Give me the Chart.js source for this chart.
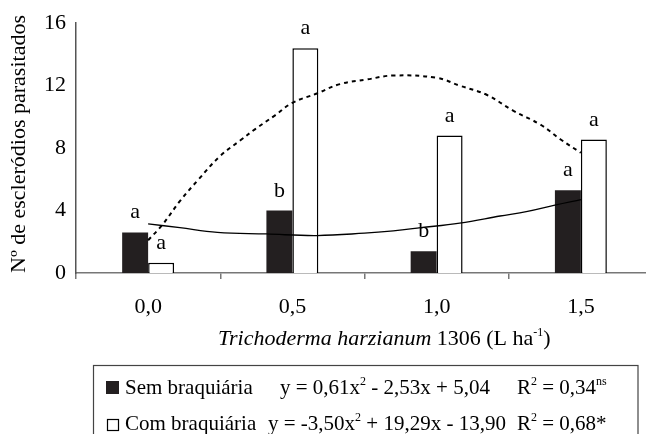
<!DOCTYPE html>
<html>
<head>
<meta charset="utf-8">
<script src="https://cdn.jsdelivr.net/npm/chart.js@4.4.1/dist/chart.umd.min.js"></script>
<style>
    html, body { margin: 0; padding: 0; overflow: hidden; background: #fff; }
    #wrap { position: absolute; left: 0; top: 0; width: 653px; height: 434px; }
</style>
</head>
<body>
<div id="wrap"><canvas id="myChart"></canvas></div>
<script>
var categories = ["0,0", "0,5", "1,0", "1,5"];
var semValues = [2.6, 4.0, 1.4, 5.3];
var comValues = [0.65, 14.4, 8.8, 8.55];
var semLetters = ["a", "b", "b", "a"];
var comLetters = ["a", "a", "a", "a"];
var yTicks = [0, 4, 8, 12, 16];

// trend lines (x = position in category units)
var semTrendX = [0, 0.22, 0.48, 0.82, 1.17, 1.5, 1.7, 1.89, 2.16, 2.44, 2.63, 2.82, 3.0];
var semTrendY = [3.15, 2.9, 2.6, 2.5, 2.4, 2.55, 2.7, 2.9, 3.2, 3.65, 3.95, 4.35, 4.7];
var comTrendX = [0, 0.1, 0.22, 0.35, 0.5, 0.64, 0.74, 0.88, 1.0, 1.17, 1.33, 1.52, 1.7, 2.0, 2.16, 2.35, 2.53, 2.72, 2.86, 3.0];
var comTrendY = [2.1, 3.1, 4.6, 6.0, 7.5, 8.5, 9.2, 10.1, 10.9, 11.5, 12.1, 12.4, 12.65, 12.5, 12.0, 11.4, 10.4, 9.5, 8.55, 7.7];

var serif = "'Liberation Serif', 'Times New Roman', serif";
var barBlack = "#231f20";
var axisGray = "#777";
var catPos = categories.map(function (c, i) { return i; });

function toPoints(xs, ys) {
    return xs.map(function (x, i) { return { x: x, y: ys[i] }; });
}

// draws a row of text pieces: n = normal, i = italic, s = superscript
function textRun(ctx, parts, x, y, size) {
    parts.forEach(function (p) {
        var dy = 0;
        if (p[1] == "s") {
            ctx.font = Math.round(size * 0.55) + "px " + serif;
            dy = -size * 0.42;
        } else if (p[1] == "i") {
            ctx.font = "italic " + size + "px " + serif;
        } else {
            ctx.font = size + "px " + serif;
        }
        ctx.fillText(p[0], x, y + dy);
        x += ctx.measureText(p[0]).width;
    });
}

var extras = {
    id: "extras",
    afterDatasetsDraw: function (chart) {
        var ctx = chart.ctx;
        ctx.save();
        ctx.font = "22px " + serif;
        ctx.fillStyle = "#000";
        ctx.textAlign = "center";
        ctx.textBaseline = "alphabetic";
        [[0, semLetters], [1, comLetters]].forEach(function (p) {
            chart.getDatasetMeta(p[0]).data.forEach(function (bar, i) {
                ctx.fillText(p[1][i], bar.x, bar.y - 14);
            });
        });
        ctx.restore();
    },
    afterDraw: function (chart) {
        var ctx = chart.ctx;
        ctx.save();
        ctx.fillStyle = "#000";
        ctx.textBaseline = "alphabetic";
        ctx.textAlign = "left";

        // x axis title
        textRun(ctx, [["Trichoderma harzianum", "i"], [" 1306 (L ha", "n"], ["-1", "s"], [")", "n"]], 218, 345, 22);

        // y axis title
        ctx.save();
        ctx.translate(19, 144);
        ctx.rotate(-Math.PI / 2);
        ctx.textAlign = "center";
        ctx.textBaseline = "middle";
        ctx.font = "22px " + serif;
        ctx.fillText("Nº de escleródios parasitados", 0, 0);
        ctx.restore();

        // legend box
        ctx.strokeStyle = "#444";
        ctx.lineWidth = 1.2;
        ctx.strokeRect(93.5, 365.5, 544.5, 100);

        ctx.fillStyle = barBlack;
        ctx.fillRect(106, 381, 13, 13);
        ctx.strokeStyle = "#000";
        ctx.lineWidth = 1.2;
        ctx.strokeRect(107.5, 419.5, 11, 11);

        ctx.fillStyle = "#000";
        textRun(ctx, [["Sem braquiária", "n"]], 125, 394, 21);
        textRun(ctx, [["y = 0,61x", "n"], ["2", "s"], [" - 2,53x + 5,04", "n"]], 280, 394, 21);
        textRun(ctx, [["R", "n"], ["2", "s"], [" = 0,34", "n"], ["ns", "s"]], 517, 394, 21);

        textRun(ctx, [["Com braquiária", "n"]], 125, 430, 21);
        textRun(ctx, [["y = -3,50x", "n"], ["2", "s"], [" + 19,29x - 13,90", "n"]], 268, 430, 21);
        textRun(ctx, [["R", "n"], ["2", "s"], [" = 0,68*", "n"]], 517, 430, 21);
        ctx.restore();
    }
};

new Chart("myChart", {
    type: "bar",
    data: {
        datasets: [{
            label: "Sem braquiária",
            data: toPoints(catPos, semValues),
            backgroundColor: barBlack,
            borderWidth: 0,
            categoryPercentage: 0.36,
            barPercentage: 1,
            order: 2
        }, {
            label: "Com braquiária",
            data: toPoints(catPos, comValues),
            backgroundColor: "#fff",
            borderColor: "#000",
            borderWidth: 1.5,
            categoryPercentage: 0.36,
            barPercentage: 1,
            order: 2
        }, {
            type: "line",
            label: "Sem trend",
            data: toPoints(semTrendX, semTrendY),
            borderColor: "#000",
            borderWidth: 1.3,
            pointRadius: 0,
            tension: 0.4,
            fill: false,
            order: 1
        }, {
            type: "line",
            label: "Com trend",
            data: toPoints(comTrendX, comTrendY),
            borderColor: "#000",
            borderWidth: 2,
            borderDash: [4, 4],
            pointRadius: 0,
            tension: 0.4,
            fill: false,
            order: 1
        }]
    },
    options: {
        responsive: true,
        maintainAspectRatio: false,
        animation: false,
        layout: { padding: { left: 0, right: 0, top: 19, bottom: 0 } },
        plugins: {
            legend: { display: false },
            tooltip: { enabled: false }
        },
        scales: {
            x: {
                type: "linear",
                offset: false,
                min: -0.5,
                max: 3.5,
                afterBuildTicks: function (scale) {
                    scale.ticks = catPos.map(function (v) { return { value: v }; });
                },
                grid: {
                    display: true,
                    offset: true,
                    drawOnChartArea: false,
                    drawTicks: true,
                    tickLength: 6,
                    color: axisGray,
                    lineWidth: 1.5
                },
                border: { display: true, color: axisGray, width: 1.5 },
                ticks: {
                    color: "#000",
                    font: { family: serif, size: 22 },
                    padding: 15,
                    maxRotation: 0,
                    autoSkip: false,
                    callback: function (value, index) { return categories[index]; }
                },
                afterFit: function (scale) { scale.height = 161; }
            },
            y: {
                min: 0,
                max: 16,
                afterBuildTicks: function (scale) {
                    scale.ticks = yTicks.map(function (v) { return { value: v }; });
                },
                grid: { display: false, drawTicks: false },
                border: { display: true, color: "#555", width: 1.5 },
                ticks: {
                    color: "#000",
                    font: { family: serif, size: 22 },
                    padding: 10
                },
                afterFit: function (scale) { scale.width = 76; }
            }
        }
    },
    plugins: [extras]
});
</script>
</body>
</html>
